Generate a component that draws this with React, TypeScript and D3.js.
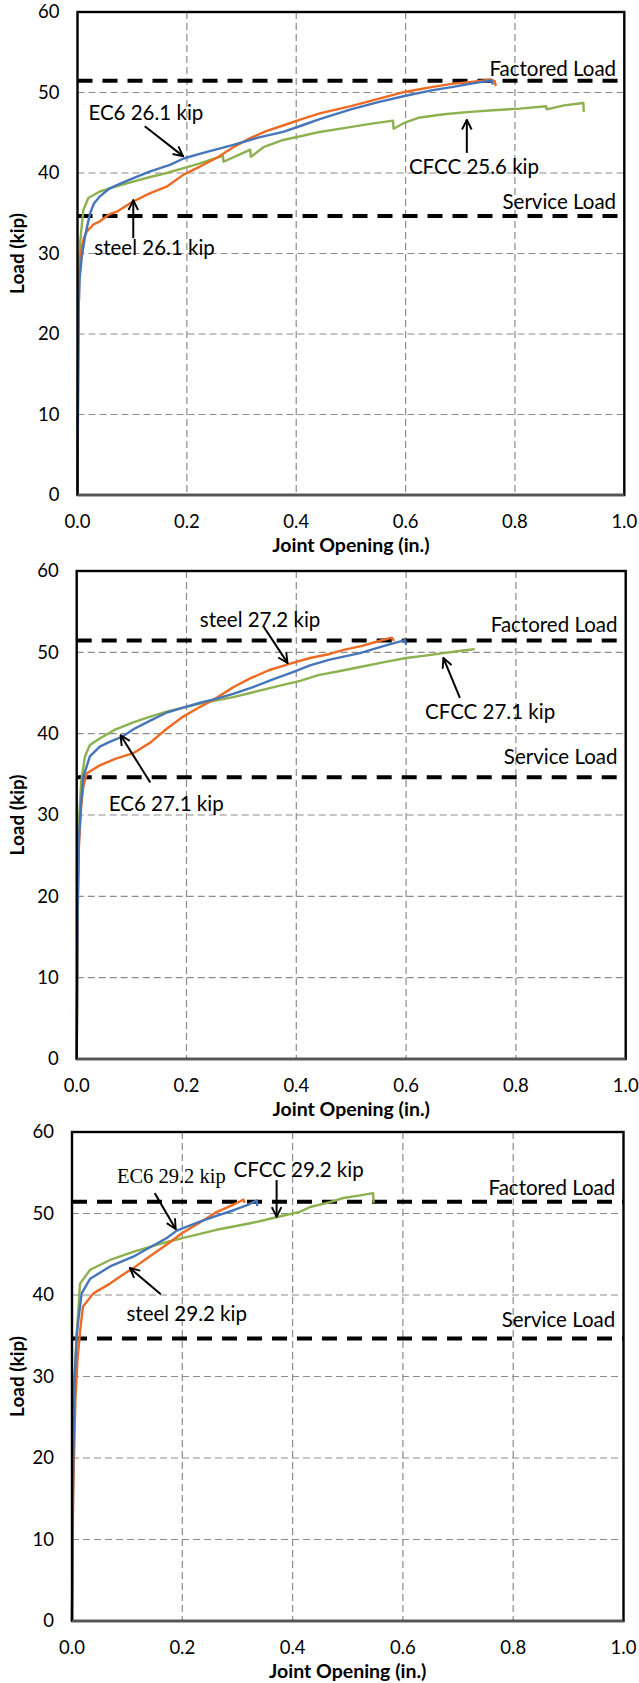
import React from "react";
import * as d3 from "d3";

type Pt = [number, number];

// ---------- data (x = joint opening in., y = load kip) ----------
const xTicks = [0, 0.2, 0.4, 0.6, 0.8, 1.0];
const yTicks = [0, 10, 20, 30, 40, 50, 60];
const FACTORED = 51.45;
const SERVICE = 34.65;

const p1Steel: Pt[] = [[0,0],[0.001,12],[0.002,22],[0.003,27],[0.005,29.5],[0.0077,30.8],[0.012,32],[0.0168,32.7],[0.029,33.6],[0.041,34.0],[0.059,34.9],[0.072,35.2],[0.1,36.4],[0.133,37.5],[0.163,38.3],[0.194,39.8],[0.224,40.8],[0.255,41.9],[0.285,43.2],[0.315,44.3],[0.345,45.2],[0.376,45.9],[0.41,46.7],[0.443,47.4],[0.5,48.3],[0.55,49.2],[0.6,50.1],[0.65,50.7],[0.687,51.1],[0.72,51.3],[0.755,51.6],[0.763,51.4],[0.765,50.8]];
const p1EC6: Pt[] = [[0,0],[0.001,15],[0.002,23],[0.004,27],[0.0077,29.5],[0.0137,32.1],[0.023,35.0],[0.03,36.2],[0.041,37.1],[0.059,38.1],[0.072,38.5],[0.1,39.3],[0.133,40.2],[0.169,41.0],[0.194,41.8],[0.23,42.5],[0.285,43.5],[0.33,44.4],[0.376,45.1],[0.41,45.9],[0.443,46.7],[0.5,47.9],[0.55,48.8],[0.6,49.6],[0.65,50.3],[0.687,50.7],[0.72,51.1],[0.757,51.5],[0.76,51.0]];
const p1CFCC: Pt[] = [[0,0],[0.001,18],[0.002,26],[0.0046,31.3],[0.0107,35.4],[0.0198,36.9],[0.041,37.7],[0.07,38.3],[0.1,38.9],[0.133,39.5],[0.163,40.0],[0.194,40.6],[0.224,41.2],[0.255,41.9],[0.266,42.1],[0.267,41.4],[0.29,42.1],[0.316,42.9],[0.317,42.0],[0.34,43.2],[0.376,44.1],[0.41,44.6],[0.443,45.1],[0.49,45.6],[0.535,46.1],[0.577,46.5],[0.578,45.5],[0.6,46.3],[0.626,46.9],[0.67,47.3],[0.718,47.6],[0.76,47.8],[0.809,48.0],[0.857,48.3],[0.858,47.9],[0.89,48.4],[0.925,48.7],[0.926,47.6]];

const p2Steel: Pt[] = [[0,0],[0.002,18],[0.004,26],[0.008,31],[0.012,33.5],[0.018,35.1],[0.042,36.1],[0.07,36.9],[0.103,37.6],[0.134,38.9],[0.164,40.6],[0.194,42.1],[0.225,43.3],[0.255,44.4],[0.285,45.7],[0.316,46.8],[0.35,47.8],[0.389,48.6],[0.425,49.3],[0.461,49.8],[0.486,50.3],[0.52,50.8],[0.546,51.3],[0.574,51.8],[0.578,51.4]];
const p2EC6: Pt[] = [[0,0],[0.002,20],[0.004,27],[0.008,31.5],[0.012,34.7],[0.024,37.2],[0.042,38.4],[0.06,39.0],[0.082,39.6],[0.105,40.6],[0.134,41.6],[0.164,42.6],[0.194,43.2],[0.225,43.8],[0.255,44.3],[0.285,44.9],[0.316,45.6],[0.355,46.6],[0.395,47.6],[0.425,48.4],[0.461,49.1],[0.516,49.9],[0.56,50.8],[0.598,51.5],[0.6,50.9]];
const p2CFCC: Pt[] = [[0,0],[0.002,22],[0.004,29],[0.008,34],[0.015,37.2],[0.024,38.6],[0.042,39.4],[0.07,40.5],[0.103,41.4],[0.134,42.1],[0.164,42.7],[0.194,43.2],[0.225,43.7],[0.255,44.1],[0.285,44.5],[0.316,45.0],[0.346,45.5],[0.376,46.0],[0.407,46.5],[0.44,47.2],[0.48,47.7],[0.516,48.2],[0.56,48.8],[0.6,49.3],[0.635,49.6],[0.668,49.9],[0.7,50.2],[0.725,50.4]];

const p3Steel: Pt[] = [[0,0],[0.002,15],[0.0036,20],[0.006,27],[0.01,32],[0.0145,35.5],[0.02,38.6],[0.0387,40.2],[0.069,41.4],[0.09,42.4],[0.111,43.3],[0.14,44.7],[0.172,46.2],[0.2,47.6],[0.232,48.9],[0.26,50.1],[0.293,51.1],[0.311,51.7],[0.313,51.3]];
const p3EC6: Pt[] = [[0,0],[0.002,18],[0.004,26],[0.005,30],[0.009,35.5],[0.0175,40.2],[0.033,42.0],[0.069,43.5],[0.111,44.7],[0.14,45.8],[0.172,47.0],[0.19,47.9],[0.232,49.0],[0.262,49.7],[0.293,50.4],[0.32,51.1],[0.335,51.6],[0.336,50.9]];
const p3CFCC: Pt[] = [[0,0],[0.001,15],[0.003,28],[0.0085,35],[0.0145,41.4],[0.033,43.1],[0.069,44.3],[0.111,45.3],[0.141,45.9],[0.172,46.5],[0.202,47.0],[0.232,47.5],[0.262,48.0],[0.293,48.4],[0.323,48.8],[0.35,49.2],[0.374,49.6],[0.413,50.2],[0.432,50.8],[0.468,51.4],[0.492,51.9],[0.52,52.2],[0.546,52.5],[0.547,51.3]];

// annotations (data units): label centre and arrow from -> to
type Ann = { text: string; tx: number; ty: number; ax: number; ay: number; bx: number; by: number; serif?: boolean };
const p1Ann: Ann[] = [
  { text: "EC6 26.1 kip", tx: 0.125, ty: 47.5, ax: 0.123, ay: 45.8, bx: 0.193, by: 42.1 },
  { text: "steel 26.1 kip", tx: 0.141, ty: 30.7, ax: 0.102, ay: 31.9, bx: 0.102, by: 36.6 },
  { text: "CFCC 25.6 kip", tx: 0.725, ty: 40.8, ax: 0.712, ay: 42.5, bx: 0.712, by: 46.6 },
];
const p2Ann: Ann[] = [
  { text: "steel 27.2 kip", tx: 0.334, ty: 54.0, ax: 0.34, ay: 53.2, bx: 0.384, by: 48.7 },
  { text: "EC6 27.1 kip", tx: 0.163, ty: 31.4, ax: 0.134, ay: 34.0, bx: 0.08, by: 39.8 },
  { text: "CFCC 27.1 kip", tx: 0.753, ty: 42.7, ax: 0.698, ay: 44.4, bx: 0.668, by: 49.3 },
];
const p3Ann: Ann[] = [
  { text: "EC6 29.2 kip", tx: 0.18, ty: 54.6, ax: 0.15, ay: 52.5, bx: 0.188, by: 48.1, serif: true },
  { text: "CFCC 29.2 kip", tx: 0.411, ty: 55.4, ax: 0.371, ay: 54.1, bx: 0.371, by: 49.6 },
  { text: "steel 29.2 kip", tx: 0.208, ty: 37.7, ax: 0.161, ay: 40.1, bx: 0.105, by: 43.3 },
];
// load-line label heights: [factored, service] (data units)
const p1LoadLbl = [52.9, 36.4];
const p2LoadLbl = [53.4, 37.1];
const p3LoadLbl = [53.1, 36.9];

const COLORS = { steel: "#ED6A22", ec6: "#4676B9", cfcc: "#8DB14E" };
const FONT = "Lato, 'Open Sans', sans-serif";
const ANN_SIZE = 20.5;

type Box = { l: number; r: number; t: number; b: number };

function Panel({ box, steel, ec6, cfcc, ann, loadLbl }: { box: Box; steel: Pt[]; ec6: Pt[]; cfcc: Pt[]; ann: Ann[]; loadLbl: number[] }) {
  const x = d3.scaleLinear().domain([0, 1]).range([box.l, box.r]);
  const y = d3.scaleLinear().domain([0, 60]).range([box.b, box.t]);
  const line = d3.line<Pt>().x((d) => x(d[0])).y((d) => y(d[1])).curve(d3.curveLinear);
  const cx = (box.l + box.r) / 2;
  const cy = (box.t + box.b) / 2;
  return (
    <g>
      {xTicks.filter((v) => v > 0 && v < 1).map((v) => (
        <line key={"gx" + v} x1={x(v)} x2={x(v)} y1={box.t} y2={box.b} stroke="#8c8c8c" strokeWidth={1.2} strokeDasharray="7,4" />
      ))}
      {yTicks.filter((v) => v > 0 && v < 60).map((v) => (
        <line key={"gy" + v} x1={box.l} x2={box.r} y1={y(v)} y2={y(v)} stroke="#8c8c8c" strokeWidth={1.2} strokeDasharray="7,4" />
      ))}
      {[FACTORED, SERVICE].map((v) => (
        <line key={"ll" + v} x1={box.l} x2={box.r} y1={y(v)} y2={y(v)} stroke="#000" strokeWidth={4} strokeDasharray="15,10" />
      ))}
      <path d={line(cfcc) || ""} fill="none" stroke={COLORS.cfcc} strokeWidth={2.4} strokeLinejoin="round" />
      <path d={line(steel) || ""} fill="none" stroke={COLORS.steel} strokeWidth={2.4} strokeLinejoin="round" />
      <path d={line(ec6) || ""} fill="none" stroke={COLORS.ec6} strokeWidth={2.4} strokeLinejoin="round" />
      <rect x={box.l} y={box.t} width={box.r - box.l} height={box.b - box.t} fill="none" stroke="#000" strokeWidth={2.4} />
      <line x1={box.l} x2={box.r} y1={box.b} y2={box.b} stroke="#555" strokeWidth={2.4} />
      {yTicks.map((v) => (
        <text key={"yt" + v} x={box.l - 18} y={y(v)} dy="0.35em" textAnchor="end" fontFamily={FONT} fontSize={18.5} fill="#000">{v}</text>
      ))}
      {xTicks.map((v) => (
        <text key={"xt" + v} x={x(v)} y={box.b + 27} dy="0.35em" textAnchor="middle" fontFamily={FONT} fontSize={18.5} fill="#000">{d3.format(".1f")(v)}</text>
      ))}
      <text x={cx} y={box.b + 50} dy="0.35em" textAnchor="middle" fontFamily={FONT} fontWeight="bold" fontSize={19.5}>Joint Opening (in.)</text>
      <text transform={`translate(17,${cy}) rotate(-90)`} dy="0.35em" textAnchor="middle" fontFamily={FONT} fontWeight="bold" fontSize={19}>Load (kip)</text>
      <text x={x(0.985)} y={y(loadLbl[0])} dy="0.35em" textAnchor="end" fontFamily={FONT} fontSize={ANN_SIZE}>Factored Load</text>
      <text x={x(0.985)} y={y(loadLbl[1])} dy="0.35em" textAnchor="end" fontFamily={FONT} fontSize={ANN_SIZE}>Service Load</text>
      {ann.map((a) => (
        <g key={a.text}>
          <line x1={x(a.ax)} y1={y(a.ay)} x2={x(a.bx)} y2={y(a.by)} stroke="#000" strokeWidth={2} markerEnd="url(#arr)" />
          <text x={x(a.tx)} y={y(a.ty)} dy="0.35em" textAnchor="middle" fontFamily={a.serif ? "'Liberation Serif', 'DejaVu Serif', serif" : FONT} fontSize={a.serif ? 20.5 : ANN_SIZE} fill="#000">{a.text}</text>
        </g>
      ))}
    </g>
  );
}

export default function App() {
  const boxes: Box[] = [
    { l: 77.5, r: 624.3, t: 12, b: 495 },
    { l: 76.7, r: 625.7, t: 571, b: 1059 },
    { l: 72, r: 623.5, t: 1132, b: 1621 },
  ];
  return (
    <svg width={639} height={1683} style={{ position: "absolute", left: 0, top: 0, background: "#fff" }}>
      <defs>
        <marker id="arr" viewBox="0 0 10 10" refX={9} refY={5} markerWidth={12} markerHeight={12} markerUnits="userSpaceOnUse" orient="auto">
          <path d="M1,1 L9,5 L1,9" fill="none" stroke="#000" strokeWidth={1.6} />
        </marker>
      </defs>
      <rect x={0} y={0} width={639} height={1683} fill="#fff" />
      <Panel box={boxes[0]} steel={p1Steel} ec6={p1EC6} cfcc={p1CFCC} ann={p1Ann} loadLbl={p1LoadLbl} />
      <Panel box={boxes[1]} steel={p2Steel} ec6={p2EC6} cfcc={p2CFCC} ann={p2Ann} loadLbl={p2LoadLbl} />
      <Panel box={boxes[2]} steel={p3Steel} ec6={p3EC6} cfcc={p3CFCC} ann={p3Ann} loadLbl={p3LoadLbl} />
    </svg>
  );
}
